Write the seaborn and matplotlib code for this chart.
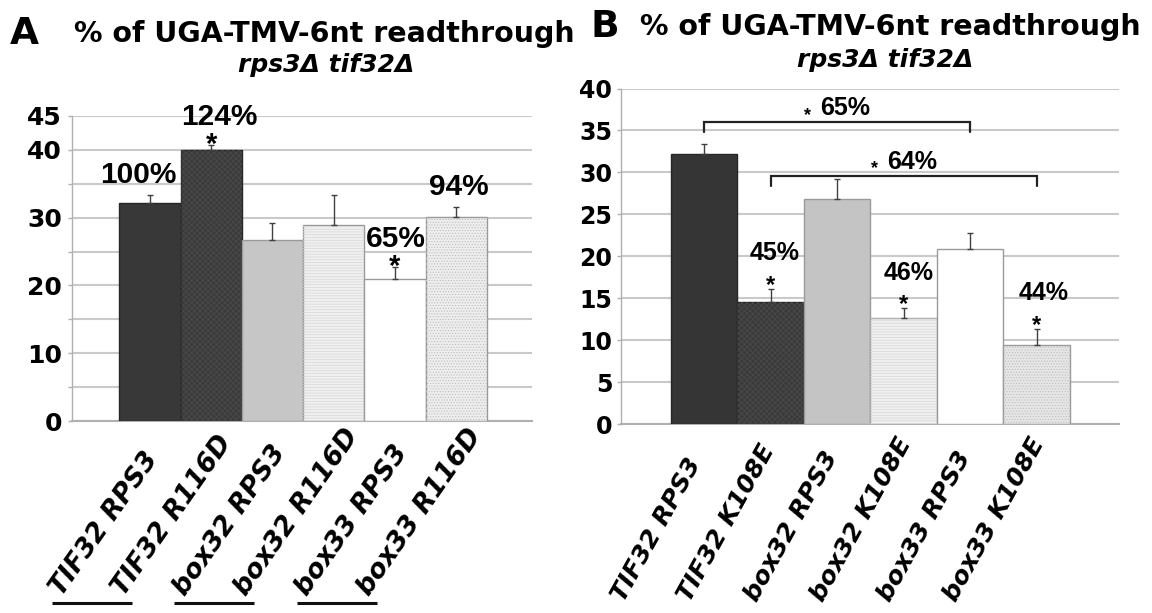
import matplotlib
matplotlib.use("Agg")
import matplotlib.pyplot as plt
import matplotlib.ticker as mticker
from matplotlib import font_manager
from matplotlib.patches import Rectangle
from matplotlib.transforms import blended_transform_factory
import seaborn as sns
import pandas as pd
import numpy as np

# ---------------- data ----------------
cats_a = ["TIF32 RPS3", "TIF32 R116D", "box32 RPS3", "box32 R116D", "box33 RPS3", "box33 R116D"]
vals_a = [32.2, 40.0, 26.7, 28.9, 20.9, 30.1]
errs_a = [1.2, 0.7, 2.5, 4.5, 1.8, 1.5]
pct_a = ["100%", "124%", "", "", "65%", "94%"]
star_a = [False, True, False, False, True, False]

cats_b = ["TIF32 RPS3", "TIF32 K108E", "box32 RPS3", "box32 K108E", "box33 RPS3", "box33 K108E"]
vals_b = [32.2, 14.6, 26.8, 12.6, 20.9, 9.4]
errs_b = [1.2, 1.5, 2.4, 1.2, 1.9, 1.9]
pct_b = ["", "45%", "", "46%", "", "44%"]
star_b = [False, True, False, True, False, True]
brackets_b = [(0, 4, "65%"), (1, 5, "64%")]
bracket_levels_b = [36.0, 29.6]

title_text = "% of UGA-TMV-6nt readthrough"
subtitle_text = "rps3\u0394 tif32\u0394"

# ---------------- style ----------------
sns.set_style("white")
plt.rcParams["font.family"] = ["DejaVu Sans"]
plt.rcParams["hatch.linewidth"] = 0.5
for k in ["text.color", "axes.labelcolor", "xtick.labelcolor", "ytick.labelcolor"]:
    plt.rcParams[k] = "black"

# pick the regular-width Liberation Sans Bold file explicitly
ann_file = None
for f in font_manager.fontManager.ttflist:
    if f.name == "Liberation Sans" and f.weight in (700, "bold") and f.style == "normal" \
            and "Narrow" not in f.fname:
        ann_file = f.fname
        break
ANN = font_manager.FontProperties(fname=ann_file) if ann_file else \
    font_manager.FontProperties(family="Liberation Sans", weight="bold")

colors_a = ["#383838", "#3b3b3b", "#c6c6c6", "#f0f0f0", "#ffffff", "#eeeeee"]
colors_b = ["#353535", "#3a3a3a", "#c4c4c4", "#f0f0f0", "#ffffff", "#e6e6e6"]
edges = ["#262626", "#262626", "#9a9a9a", "#9a9a9a", "#9a9a9a", "#9a9a9a"]
hatches = [None, "xxxxxx", None, "------", None, "......"]
hatch_cols = [None, "#4c4c4c", None, "#d6d6d6", None, "#bdbdbd"]

GRID = "#c9c9c9"

fig = plt.figure(figsize=(11.52, 6.13), dpi=100)
axA = fig.add_axes([0.0628, 0.3132, 0.3988, 0.4976])
axB = fig.add_axes([0.5388, 0.3083, 0.4328, 0.5473])


def draw_panel(ax, cats, vals, errs, colors, ymax, major, minor, tick_fs, tick_pad,
               xlim, lab_rot, lab_fs, lab_dx, lab_dy):
    df = pd.DataFrame({"cat": cats, "val": vals})
    sns.barplot(data=df, x="cat", y="val", hue="cat", palette=colors, legend=False,
                width=1.0, saturation=1, errorbar=None, ax=ax, zorder=3)
    for p, ec, h, hc in zip(list(ax.patches), edges, hatches, hatch_cols):
        p.set_edgecolor(ec)
        p.set_linewidth(1.0)
        if h:
            ov = Rectangle(p.get_xy(), p.get_width(), p.get_height(), facecolor="none",
                           edgecolor=hc, hatch=h, linewidth=0, zorder=3.5)
            ax.add_patch(ov)
    xs = np.arange(len(cats))
    ax.errorbar(xs, vals, yerr=[np.zeros(len(vals)), errs], fmt="none",
                ecolor="#404040", elinewidth=1.0, capsize=2.5, capthick=1.0, zorder=4)
    ax.set_ylim(0, ymax)
    ax.set_xlim(*xlim)
    ax.yaxis.set_major_locator(mticker.FixedLocator(major))
    ax.yaxis.set_minor_locator(mticker.FixedLocator(minor))
    ax.yaxis.set_major_formatter(mticker.FormatStrFormatter("%d"))
    ax.set_axisbelow(True)
    ax.yaxis.grid(True, which="both", color=GRID, lw=1.5, zorder=0)
    ax.xaxis.grid(False)
    ax.tick_params(axis="y", which="both", length=3, width=1, color="#b0b0b0",
                   left=True, pad=tick_pad, labelcolor="black")
    ax.tick_params(axis="y", which="major", labelsize=tick_fs)
    for lab in ax.get_yticklabels():
        lab.set_fontweight("bold")
    ax.tick_params(axis="x", length=0, labelbottom=False)
    ax.set_xlabel("")
    ax.set_ylabel("")
    for s in ["top", "right"]:
        ax.spines[s].set_visible(False)
    ax.spines["left"].set_color("#b0b0b0")
    ax.spines["left"].set_linewidth(1.0)
    ax.spines["bottom"].set_color("#b0b0b0")
    ax.spines["bottom"].set_linewidth(1.5)
    trans = blended_transform_factory(ax.transData, ax.transAxes)
    for i, c in enumerate(cats):
        ax.annotate(c, xy=(i, 0), xycoords=trans, xytext=(lab_dx, lab_dy),
                    textcoords="offset points", rotation=lab_rot, rotation_mode="anchor",
                    ha="left", va="baseline", fontsize=lab_fs, fontweight="bold",
                    fontstyle="italic", color="black", annotation_clip=False)
    return xs


def put(ax, x, y, s, fs, center_em):
    fp = ANN.copy()
    fp.set_size(fs)
    ax.annotate(s, xy=(x, y), xytext=(0, -center_em * fs), textcoords="offset points",
                ha="center", va="baseline", fontproperties=fp, color="black",
                annotation_clip=False, zorder=6)


# ---------------- panel A ----------------
xa = draw_panel(axA, cats_a, vals_a, errs_a, colors_a, 45, [0, 10, 20, 30, 40, 45],
                [5, 15, 25, 35], 18, 4.5, (-1.268, 6.235), 55, 19, -63, -126.5)
pct_dx_a = [-0.19, 0.13, 0, 0, 0.02, 0.05]
for i in range(len(cats_a)):
    top = vals_a[i] + errs_a[i]
    if star_a[i]:
        put(axA, xa[i], top + 1.3, "*", 21, 0.57)
        put(axA, xa[i] + pct_dx_a[i], top + 4.5, pct_a[i], 21.5, 0.36)
    elif pct_a[i]:
        put(axA, xa[i] + pct_dx_a[i], top + 3.3, pct_a[i], 21.5, 0.36)

# group underlines under panel A labels
transA = blended_transform_factory(axA.transData, axA.transAxes)
for g in range(0, len(cats_a), 2):
    axA.plot([xa[g] - 1.6, xa[g] - 0.3], [-0.597, -0.597], transform=transA,
             color="#111111", lw=2.2, clip_on=False, solid_capstyle="butt")

# ---------------- panel B ----------------
xb = draw_panel(axB, cats_b, vals_b, errs_b, colors_b, 40, list(range(0, 45, 5)), [],
                17, 3.0, (-1.256, 6.241), 61, 18, -58, -129)
pct_dx_b = [0, 0.06, 0, 0.08, 0, 0.1]
for i in range(len(cats_b)):
    top = vals_b[i] + errs_b[i]
    if star_b[i]:
        put(axB, xb[i], top + 1.3, "*", 17, 0.57)
        put(axB, xb[i] + pct_dx_b[i], top + 4.5, pct_b[i], 18, 0.36)

for (i0, i1, txt), lev in zip(brackets_b, bracket_levels_b):
    axB.plot([xb[i0], xb[i0], xb[i1], xb[i1]], [lev - 1.2, lev, lev, lev - 1.2],
             color="#222222", lw=1.6, zorder=5, solid_joinstyle="miter")
    mid = (xb[i0] + xb[i1]) / 2
    put(axB, mid + 0.12, lev + 1.9, txt, 18, 0.36)
    put(axB, mid - 0.44, lev + 1.5, "*", 13, 0.57)

# ---------------- titles ----------------
fig.text(10 / 1152, 1 - 44 / 613, "A", fontsize=27, fontweight="bold", ha="left", va="baseline")
fig.text(324 / 1152, 1 - 42 / 613, title_text, fontsize=20.5, fontweight="bold",
         ha="center", va="baseline")
fig.text(326 / 1152, 1 - 72 / 613, subtitle_text, fontsize=18, fontweight="bold",
         fontstyle="italic", ha="center", va="baseline")
fig.text(591 / 1152, 1 - 37 / 613, "B", fontsize=27, fontweight="bold", ha="left", va="baseline")
fig.text(890 / 1152, 1 - 35 / 613, title_text, fontsize=20.5, fontweight="bold",
         ha="center", va="baseline")
fig.text(885 / 1152, 1 - 67 / 613, subtitle_text, fontsize=18, fontweight="bold",
         fontstyle="italic", ha="center", va="baseline")

fig.savefig("out.png", dpi=100, facecolor="white")
